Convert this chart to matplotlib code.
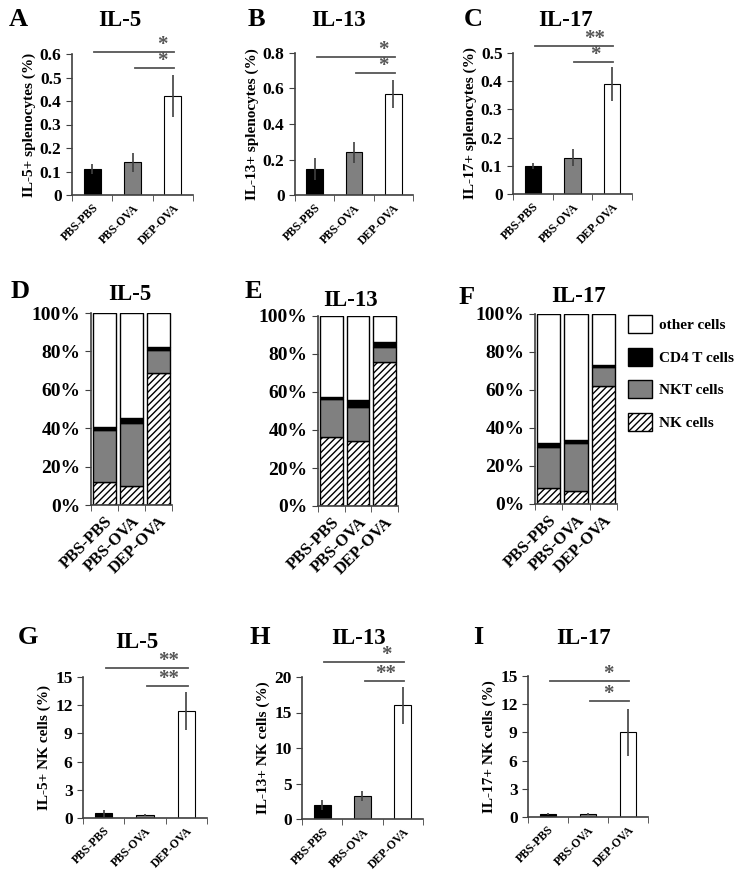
import numpy as np
import matplotlib
matplotlib.use('Agg')
import matplotlib.pyplot as plt
from matplotlib.patches import Patch

plt.rcParams['font.family'] = ['Liberation Serif', 'DejaVu Serif']
plt.rcParams['font.weight'] = 'bold'
plt.rcParams['axes.labelweight'] = 'bold'
plt.rcParams['hatch.linewidth'] = 1.0

W, H = 751, 873

groups = ['PBS-PBS', 'PBS-OVA', 'DEP-OVA']
bar_colors = ['black', '#808080', 'white']

# top row: cytokine+ splenocytes (%)
il5_splen = [0.11, 0.14, 0.42]
il5_splen_err = [0.02, 0.04, 0.09]
il13_splen = [0.147, 0.24, 0.57]
il13_splen_err = [0.06, 0.06, 0.08]
il17_splen = [0.10, 0.128, 0.39]
il17_splen_err = [0.01, 0.03, 0.06]

# middle row: composition of cytokine+ cells (%)
il5_nk = [11.8, 10.1, 69.0]
il5_nkt = [27.3, 32.5, 11.9]
il5_cd4 = [1.4, 2.6, 1.2]
il13_nk = [36.5, 34.4, 76.0]
il13_nkt = [19.8, 17.9, 7.9]
il13_cd4 = [1.2, 3.5, 2.2]
il17_nk = [8.4, 6.7, 61.9]
il17_nkt = [21.6, 25.4, 10.2]
il17_cd4 = [1.9, 1.8, 1.1]

# bottom row: cytokine+ NK cells (%)
il5_nkc = [0.5, 0.35, 11.4]
il5_nkc_err = [0.35, 0.1, 2.0]
il13_nkc = [2.0, 3.3, 16.0]
il13_nkc_err = [0.7, 0.7, 2.55]
il17_nkc = [0.32, 0.28, 9.0]
il17_nkc_err = [0.1, 0.1, 2.5]

fig = plt.figure(figsize=(W / 100, H / 100), dpi=100)


def px_axes(l, t, r, b):
    return fig.add_axes([l / W, 1 - b / H, (r - l) / W, (b - t) / H])


def fig_text(x, y, s, size):
    fig.text(x / W, 1 - y / H, s, ha='center', va='center', fontsize=size, fontweight='bold')


def base_style(ax, xsize, pad):
    for s in ['top', 'right']:
        ax.spines[s].set_visible(False)
    for s in ['left', 'bottom']:
        ax.spines[s].set_color('#404040')
        ax.spines[s].set_linewidth(1.2)
    ax.set_xlim(-0.5, 2.5)
    ax.set_xticks(range(3))
    ax.set_xticklabels(groups, rotation=45, ha='right', rotation_mode='anchor', fontsize=xsize)
    ax.set_xticks([-0.5, 0.5, 1.5, 2.5], minor=True)
    ax.tick_params(axis='x', which='major', length=0, pad=pad)
    ax.tick_params(axis='x', which='minor', length=4, color='#404040')
    ax.tick_params(axis='y', length=4, color='#404040')


def bar_panel(ax, vals, errs, ymax, step, ylabel, sigs, line_y, star_x):
    ax.bar(range(3), vals, width=0.42, color=bar_colors, edgecolor='black', linewidth=0.8, zorder=2)
    ax.errorbar(range(3), vals, yerr=errs, fmt='none', ecolor='#404040', elinewidth=1.2, capsize=0, zorder=3)
    base_style(ax, 8.5, 5)
    ticks = np.arange(0, ymax + step / 2, step)
    ax.set_ylim(0, ymax)
    ax.set_yticks(ticks)
    ax.set_yticklabels([f'{t:g}' for t in ticks], fontsize=12.5)
    ax.set_ylabel(ylabel, fontsize=11, labelpad=3)
    tr = ax.get_xaxis_transform()
    for (x0, x1, lab), y in zip(sigs, line_y):
        ax.plot([x0, x1], [y, y], color='#555555', lw=1.3, transform=tr, clip_on=False)
        ax.annotate(lab, (star_x, y), xycoords=tr, xytext=(0, 2), textcoords='offset pixels',
                    ha='center', va='baseline', fontsize=15, color='#555555', annotation_clip=False)


def stack_panel(ax, nk, nkt, cd4):
    nk = np.array(nk)
    nkt = np.array(nkt)
    cd4 = np.array(cd4)
    other = 100 - nk - nkt - cd4
    x = np.arange(3)
    kw = dict(width=0.86, edgecolor='black', linewidth=1.0)
    ax.bar(x, nk, color='white', hatch='/////', **kw)
    ax.bar(x, nkt, bottom=nk, color='#808080', **kw)
    ax.bar(x, cd4, bottom=nk + nkt, color='black', **kw)
    ax.bar(x, other, bottom=nk + nkt + cd4, color='white', **kw)
    base_style(ax, 12, 6)
    ax.set_ylim(0, 100)
    ax.set_yticks(range(0, 101, 20))
    ax.set_yticklabels([f'{t}%' for t in range(0, 101, 20)], fontsize=14)


long_short = lambda a, b: [(0.05, 2.03, a), (1.05, 2.03, b)]

axA = px_axes(72, 54, 193, 195)
bar_panel(axA, il5_splen, il5_splen_err, 0.6, 0.1, 'IL-5+ splenocytes (%)', long_short('*', '*'), [1.014, 0.90], 1.75)
axB = px_axes(295, 53, 413, 195)
bar_panel(axB, il13_splen, il13_splen_err, 0.8, 0.2, 'IL-13+ splenocytes (%)', long_short('*', '*'), [0.972, 0.859], 1.75)
axC = px_axes(513, 53, 632, 194)
bar_panel(axC, il17_splen, il17_splen_err, 0.5, 0.1, 'IL-17+ splenocytes (%)', long_short('**', '*'), [1.05, 0.936], 1.57)

axD = px_axes(91, 313, 172, 505)
stack_panel(axD, il5_nk, il5_nkt, il5_cd4)
axE = px_axes(318, 316, 398, 506)
stack_panel(axE, il13_nk, il13_nkt, il13_cd4)
axF = px_axes(535, 314, 617, 504)
stack_panel(axF, il17_nk, il17_nkt, il17_cd4)

axG = px_axes(83, 677, 207, 818)
bar_panel(axG, il5_nkc, il5_nkc_err, 15, 3, 'IL-5+ NK cells (%)', long_short('**', '**'), [1.064, 0.936], 1.56)
axH = px_axes(302, 677, 423, 819)
bar_panel(axH, il13_nkc, il13_nkc_err, 20, 5, 'IL-13+ NK cells (%)', long_short('*', '**'), [1.106, 0.972], 1.58)
axI = px_axes(528, 676, 648, 817)
bar_panel(axI, il17_nkc, il17_nkc_err, 15, 3, 'IL-17+ NK cells (%)', long_short('*', '*'), [0.965, 0.823], 1.52)

# legend for composition panels
handles = [Patch(facecolor='white', edgecolor='black', label='other cells'),
           Patch(facecolor='black', edgecolor='black', label='CD4 T cells'),
           Patch(facecolor='#808080', edgecolor='black', label='NKT cells'),
           Patch(facecolor='white', edgecolor='black', hatch='/////', label='NK cells')]
fig.legend(handles=handles, loc='upper left', bbox_to_anchor=(628 / W, 1 - 315 / H), frameon=False,
           borderpad=0, borderaxespad=0, fontsize=11, handlelength=1.55, handleheight=1.45,
           labelspacing=0.95, handletextpad=0.45)

# panel letters and titles
letters = [('A', 18, 20), ('B', 256, 20), ('C', 473, 20),
           ('D', 20, 292), ('E', 253, 292), ('F', 467, 297),
           ('G', 28, 637), ('H', 260, 637), ('I', 478, 637)]
for s, x, y in letters:
    fig_text(x, y, s, 19)
titles = [('IL-5', 120, 20), ('IL-13', 338, 20), ('IL-17', 565, 20),
          ('IL-5', 130, 295), ('IL-13', 350, 300), ('IL-17', 578, 297),
          ('IL-5', 137, 642), ('IL-13', 358, 638), ('IL-17', 583, 638)]
for s, x, y in titles:
    fig_text(x, y, s, 16.5)

fig.savefig('out.png', dpi=100, facecolor='white')
